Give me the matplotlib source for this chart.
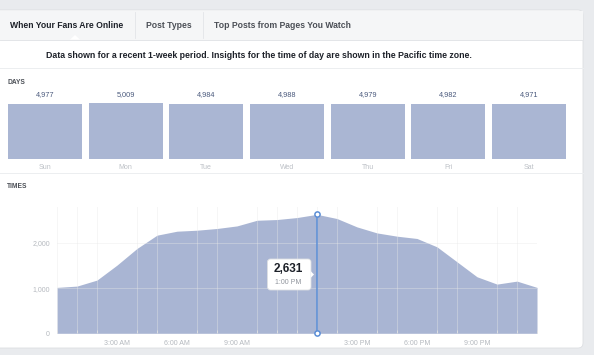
import numpy as np
import matplotlib.pyplot as plt
from matplotlib.patches import Rectangle, FancyBboxPatch

plt.rcParams['font.family'] = ['Liberation Sans', 'DejaVu Sans']

# ---- data ----
days = ['Sun', 'Mon', 'Tue', 'Wed', 'Thu', 'Fri', 'Sat']
day_values = [4977, 5009, 4984, 4988, 4979, 4982, 4971]

hours = list(range(25))
hour_values = [1015, 1044, 1177, 1508, 1876, 2170, 2258, 2280, 2318, 2375,
               2500, 2516, 2560, 2631, 2538, 2353, 2220, 2148, 2097, 1912,
               1581, 1250, 1088, 1154, 1015]
tick_hours = [3, 6, 9, 15, 18, 21]
tick_labels = ['3:00 AM', '6:00 AM', '9:00 AM', '3:00 PM', '6:00 PM', '9:00 PM']
y_ticks = [0, 1000, 2000]
y_labels = ['0', '1,000', '2,000']
hover_hour = 13
hover_label = '1:00 PM'

tabs = ['When Your Fans Are Online', 'Post Types', 'Top Posts from Pages You Watch']
note = ('Data shown for a recent 1-week period. Insights for the time of day '
        'are shown in the Pacific time zone.')

W, H = 594, 355
fig = plt.figure(figsize=(W / 100, H / 100), dpi=100, facecolor='#e9ebee')

def px_axes(x0, y0, x1, y1):
    # pixel box (top-left origin) -> figure axes
    return fig.add_axes([x0 / W, 1 - y1 / H, (x1 - x0) / W, (y1 - y0) / H])

def px_overlay():
    a = fig.add_axes([0, 0, 1, 1])
    a.set_xlim(0, W)
    a.set_ylim(H, 0)
    a.axis('off')
    a.patch.set_alpha(0)
    return a

# background / card drawn in pixel coords
bg = px_overlay()
bg.add_patch(FancyBboxPatch((-6, 10), 589, 338, boxstyle='round,pad=0,rounding_size=5',
                            fc='white', ec='#dddfe2', lw=0.6))
bg.add_patch(Rectangle((0, 10.5), 582.5, 29, fc='#f5f6f7', ec='none'))
bg.plot([0, 582.5], [39.5, 39.5], color='#e3e5e8', lw=0.7)
bg.plot([0, 582.5], [68, 68], color='#eceef0', lw=0.7)
bg.plot([0, 582.5], [173, 173], color='#eceef0', lw=0.7)
for sx in [135, 203]:
    bg.plot([sx, sx], [12, 38], color='#e3e5e8', lw=0.6)
bg.fill([70, 80, 75], [39.6, 39.6, 35], color='white', ec='none')

tab_x = [10, 146, 214]
for i, (t, tx) in enumerate(zip(tabs, tab_x)):
    bg.text(tx, 25, t, fontsize=6.2, fontweight='bold', va='center', ha='left',
            color='#1d2129' if i == 0 else '#4b4f56')
bg.text(259, 55, note, fontsize=6.35, fontweight='bold', va='center', ha='center',
        color='#1d2129')
bg.text(7, 83, 'DAYS', fontsize=4.8, fontweight='bold', va='center', color='#4b4f56')
bg.text(7, 187, 'TIMES', fontsize=4.8, fontweight='bold', va='center', color='#4b4f56')

# ---- days bars ----
ax1 = px_axes(8, 103.3, 566, 159)
xs = np.arange(len(days))
ax1.bar(xs, day_values, width=0.917, color='#aab6d3')
ax1.set_xlim(-0.4585, len(days) - 1 + 0.4585)
ax1.set_ylim(0, max(day_values))
ax1.axis('off')
for x, v, d in zip(xs, day_values, days):
    ax1.annotate(f'{v:,}', (x, max(day_values)), xytext=(0, 3.5), textcoords='offset points',
                 ha='center', va='bottom', fontsize=5.3, color='#4b5a7d')
    ax1.annotate(d, (x, 0), xytext=(0, -3.5), textcoords='offset points',
                 ha='center', va='top', fontsize=5.0, color='#bcc0c6')

# ---- times area ----
ax2 = px_axes(57, 206.7, 537, 333.3)
ax2.fill_between(hours, hour_values, color='#a9b5d3', lw=0)
ax2.set_xlim(0, 24)
ax2.set_ylim(0, 2800)
ax2.set_xticks(range(25), minor=True)
ax2.grid(True, which='minor', axis='x', color='#e8e8e8', alpha=0.45, lw=0.6)
ax2.set_yticks(y_ticks)
ax2.set_yticklabels(y_labels)
ax2.grid(True, which='major', axis='y', color='#e8e8e8', alpha=0.45, lw=0.6)
ax2.set_xticks(tick_hours)
ax2.set_xticklabels(tick_labels)
ax2.set_axisbelow(False)
ax2.tick_params(axis='both', which='both', length=0, labelsize=5.0, labelcolor='#b5b9bf')
ax2.tick_params(axis='x', which='minor', length=2, color='#e0e0e0', direction='in')
ax2.tick_params(axis='x', pad=5)
ax2.tick_params(axis='y', pad=5)
for s in ax2.spines.values():
    s.set_visible(False)

hv = hour_values[hours.index(hover_hour)]
ax2.plot([hover_hour, hover_hour], [0, hv], color='#5b8ed6', lw=1.1, clip_on=False, zorder=5)
ax2.scatter([hover_hour, hover_hour], [0, hv], s=14, facecolor='white', edgecolor='#5b8ed6',
            lw=1.1, clip_on=False, zorder=6)

# tooltip on top of everything
top = px_overlay()
top.add_patch(FancyBboxPatch((267.5, 259), 43.5, 31, boxstyle='round,pad=0,rounding_size=3',
                             fc='white', ec='#dddfe2', lw=0.6, zorder=7))
top.fill([310.6, 314, 310.6], [271, 274.5, 278], color='white', ec='none', zorder=8)
top.text(288.5, 269, f'{hv:,}', fontsize=8.5, fontweight='bold', ha='center', va='center',
         color='#1d2129', zorder=9)
top.text(288.5, 282, hover_label, fontsize=5.0, ha='center', va='center',
         color='#90949c', zorder=9)

fig.savefig('out.png', dpi=100, facecolor=fig.get_facecolor())
